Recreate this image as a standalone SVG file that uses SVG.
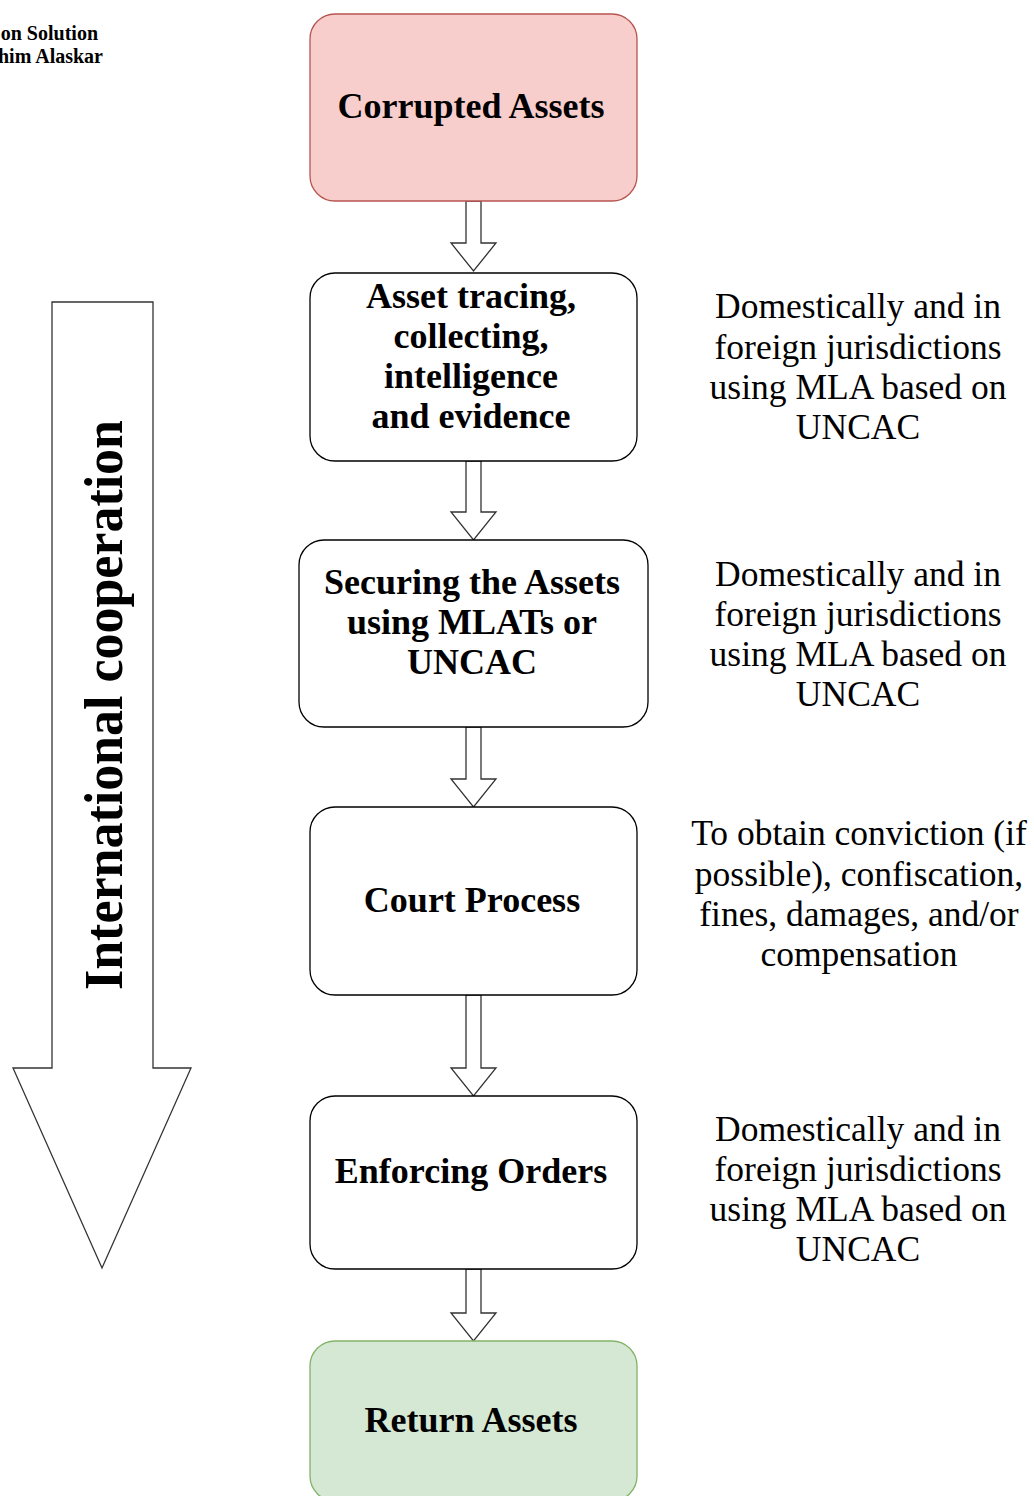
<svg xmlns="http://www.w3.org/2000/svg" width="1034" height="1496" viewBox="0 0 1034 1496">
  <style>
    .box { fill: #ffffff; stroke: #000000; stroke-width: 1.3; }
    .red { fill: #f8cecc; stroke: #b85450; }
    .green { fill: #d5e8d4; stroke: #82b366; }
    .lbl { font-family: "Liberation Serif", "Times New Roman", serif; font-weight: bold; font-size: 36px; text-anchor: middle; fill: #000; }
    .note { font-family: "Liberation Serif", "Times New Roman", serif; font-size: 35.5px; text-anchor: middle; fill: #000; }
    .hdr { font-family: "Liberation Serif", "Times New Roman", serif; font-weight: bold; font-size: 20px; text-anchor: end; fill: #000; }
    .blk { fill: #ffffff; stroke: #333333; stroke-width: 1.3; stroke-linejoin: miter; }
  </style>
  <rect width="1034" height="1496" fill="#ffffff"/>

  <g id="header">
    <text class="hdr" x="98" y="40">on Solution</text>
    <text class="hdr" x="103" y="63">him Alaskar</text>
  </g>

  <g id="intl-cooperation">
    <path class="blk" d="M52,302 L153,302 L153,1068 L191,1068 L102,1268 L13,1068 L52,1068 Z"/>
    <text transform="translate(122,705) rotate(-90)" x="0" y="0" font-family="Liberation Serif, Times New Roman, serif" font-weight="bold" font-size="54" text-anchor="middle" textLength="570" lengthAdjust="spacingAndGlyphs">International cooperation</text>
  </g>

  <g id="connectors">
    <path class="blk" d="M466,201 L481,201 L481,243 L496,243 L473.5,271 L451,243 L466,243 Z"/>
    <path class="blk" d="M466,461 L481,461 L481,512 L496,512 L473.5,540 L451,512 L466,512 Z"/>
    <path class="blk" d="M466,727 L481,727 L481,779 L496,779 L473.5,807 L451,779 L466,779 Z"/>
    <path class="blk" d="M466,995 L481,995 L481,1068 L496,1068 L473.5,1096 L451,1068 L466,1068 Z"/>
    <path class="blk" d="M466,1269 L481,1269 L481,1313 L496,1313 L473.5,1341 L451,1313 L466,1313 Z"/>
  </g>

  <g id="corrupted-assets">
    <rect class="box red" x="310" y="14" width="327" height="187" rx="25" ry="25"/>
    <text class="lbl" x="471" y="118">Corrupted Assets</text>
  </g>

  <g id="asset-tracing">
    <rect class="box" x="310" y="273" width="327" height="188" rx="25" ry="25"/>
    <text class="lbl" x="471" y="308">Asset tracing,</text>
    <text class="lbl" x="471" y="348">collecting,</text>
    <text class="lbl" x="471" y="388">intelligence</text>
    <text class="lbl" x="471" y="428">and evidence</text>
  </g>

  <g id="securing">
    <rect class="box" x="299" y="540" width="349" height="187" rx="25" ry="25"/>
    <text class="lbl" x="472" y="594">Securing the Assets</text>
    <text class="lbl" x="472" y="634">using MLATs or</text>
    <text class="lbl" x="472" y="674">UNCAC</text>
  </g>

  <g id="court-process">
    <rect class="box" x="310" y="807" width="327" height="188" rx="25" ry="25"/>
    <text class="lbl" x="472" y="912">Court Process</text>
  </g>

  <g id="enforcing-orders">
    <rect class="box" x="310" y="1096" width="327" height="173" rx="25" ry="25"/>
    <text class="lbl" x="471" y="1183">Enforcing Orders</text>
  </g>

  <g id="return-assets">
    <rect class="box green" x="310" y="1341" width="327" height="160" rx="25" ry="25"/>
    <text class="lbl" x="471" y="1432">Return Assets</text>
  </g>

  <g id="note-tracing">
    <text class="note" x="858" y="318">Domestically and in</text>
    <text class="note" x="858" y="359">foreign jurisdictions</text>
    <text class="note" x="858" y="399">using MLA based on</text>
    <text class="note" x="858" y="439">UNCAC</text>
  </g>

  <g id="note-securing">
    <text class="note" x="858" y="586">Domestically and in</text>
    <text class="note" x="858" y="626">foreign jurisdictions</text>
    <text class="note" x="858" y="666">using MLA based on</text>
    <text class="note" x="858" y="706">UNCAC</text>
  </g>

  <g id="note-court">
    <text class="note" x="859" y="845">To obtain conviction (if</text>
    <text class="note" x="859" y="886">possible), confiscation,</text>
    <text class="note" x="859" y="926">fines, damages, and/or</text>
    <text class="note" x="859" y="966">compensation</text>
  </g>

  <g id="note-enforcing">
    <text class="note" x="858" y="1141">Domestically and in</text>
    <text class="note" x="858" y="1181">foreign jurisdictions</text>
    <text class="note" x="858" y="1221">using MLA based on</text>
    <text class="note" x="858" y="1261">UNCAC</text>
  </g>
</svg>
